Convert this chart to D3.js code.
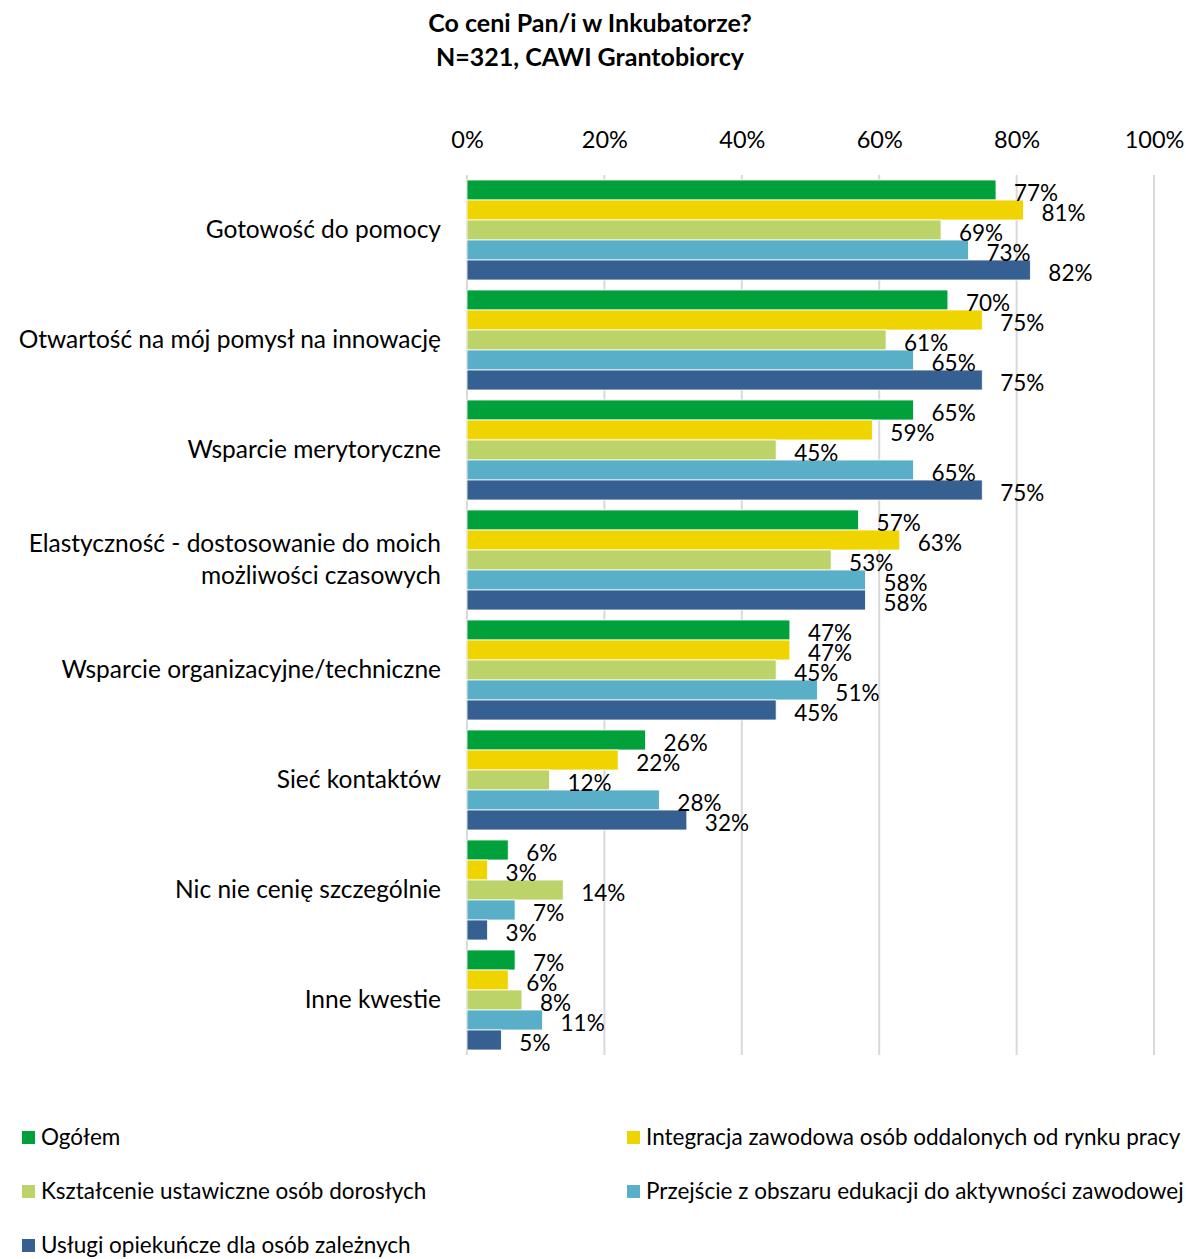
<!DOCTYPE html>
<html><head><meta charset="utf-8">
<script src="https://cdn.jsdelivr.net/npm/d3@7"></script>
<style>body{margin:0;background:#fff;} text{font-family:Lato,"Open Sans",sans-serif;fill:#000;}</style>
</head><body>
<svg id="chart" width="1186" height="1259"></svg>
<script>
const categories = ["Gotowość do pomocy","Otwartość na mój pomysł na innowację","Wsparcie merytoryczne","Elastyczność - dostosowanie do moich|możliwości czasowych","Wsparcie organizacyjne/techniczne","Sieć kontaktów","Nic nie cenię szczególnie","Inne kwestie"];
const seriesNames = ["Ogółem","Integracja zawodowa osób oddalonych od rynku pracy","Kształcenie ustawiczne osób dorosłych","Przejście z obszaru edukacji do aktywności zawodowej","Usługi opiekuńcze dla osób zależnych"];
const seriesColors = ["#00A13A","#F0D400","#BCD36A","#5AAFC8","#366092"];
const ogolem     = [77,70,65,57,47,26,6,7];
const integracja = [81,75,59,63,47,22,3,6];
const ksztalcenie= [69,61,45,53,45,12,14,8];
const przejscie  = [73,65,65,58,51,28,7,11];
const uslugi     = [82,75,75,58,45,32,3,5];
const seriesValues = [ogolem,integracja,ksztalcenie,przejscie,uslugi];
const ticks = [0,20,40,60,80,100];

const svg = d3.select("#chart");
const x = d3.scaleLinear().domain([0,100]).range([467,1154]);
const y = d3.scaleBand().domain(categories).range([175,1055]).paddingInner(10/110).paddingOuter(5/110);
const yInner = d3.scaleBand().domain(seriesNames).range([0,y.bandwidth()]);

// title
svg.append("text").attr("x",590).attr("y",32).attr("text-anchor","middle").attr("font-size",25).attr("font-weight","bold").text("Co ceni Pan/i w Inkubatorze?");
svg.append("text").attr("x",590).attr("y",66).attr("text-anchor","middle").attr("font-size",25).attr("font-weight","bold").text("N=321, CAWI Grantobiorcy");

// gridlines
svg.append("g").selectAll("line").data(ticks).join("line")
  .attr("x1",d=>x(d)).attr("x2",d=>x(d)).attr("y1",175).attr("y2",1055)
  .attr("stroke","#d9d9d9").attr("stroke-width",2);

// top axis
const ax = svg.append("g").attr("transform","translate(0,148)")
  .call(d3.axisTop(x).tickValues(ticks).tickFormat(d=>d+"%").tickSize(0).tickPadding(0));
ax.select(".domain").remove();
ax.selectAll("text").attr("font-size",23.5).attr("fill","#000").style("font-family","Lato,'Open Sans',sans-serif");

// bars
const flat = [];
categories.forEach((c,ci)=>seriesNames.forEach((s,si)=>flat.push({c,s,si,v:seriesValues[si][ci]})));
svg.append("g").selectAll("rect").data(flat).join("rect")
  .attr("x",x(0)).attr("y",d=>y(d.c)+yInner(d.s)).attr("width",d=>x(d.v)-x(0)).attr("height",yInner.bandwidth())
  .attr("fill",d=>seriesColors[d.si]).attr("stroke","#fff").attr("stroke-width",0.8);
svg.append("g").selectAll("text").data(flat).join("text")
  .attr("x",d=>x(d.v)+18).attr("y",d=>y(d.c)+yInner(d.s)+yInner.bandwidth()/2+11)
  .attr("font-size",22.5).text(d=>d.v+"%");

// category labels
svg.append("g").selectAll("text").data(categories).join("text")
  .attr("x",441).attr("text-anchor","end").attr("font-size",24.5)
  .each(function(c){
    const lines = c.split("|");
    const t = d3.select(this);
    const cy = y(c)+y.bandwidth()/2;
    lines.forEach((l,i)=>{
      t.append("tspan").attr("x",441).attr("y",cy+8+(i-(lines.length-1)/2)*32).text(l);
    });
  });

// legend
const legendPos = [[22,1137],[627,1137],[22,1191],[627,1191],[22,1245]];
seriesNames.forEach((s,i)=>{
  const [lx,ly] = legendPos[i];
  svg.append("rect").attr("x",lx).attr("y",ly-6).attr("width",13).attr("height",13).attr("fill",seriesColors[i]);
  svg.append("text").attr("x",lx+19).attr("y",ly+8).attr("font-size",22.5).text(s);
});
</script>
</body></html>
